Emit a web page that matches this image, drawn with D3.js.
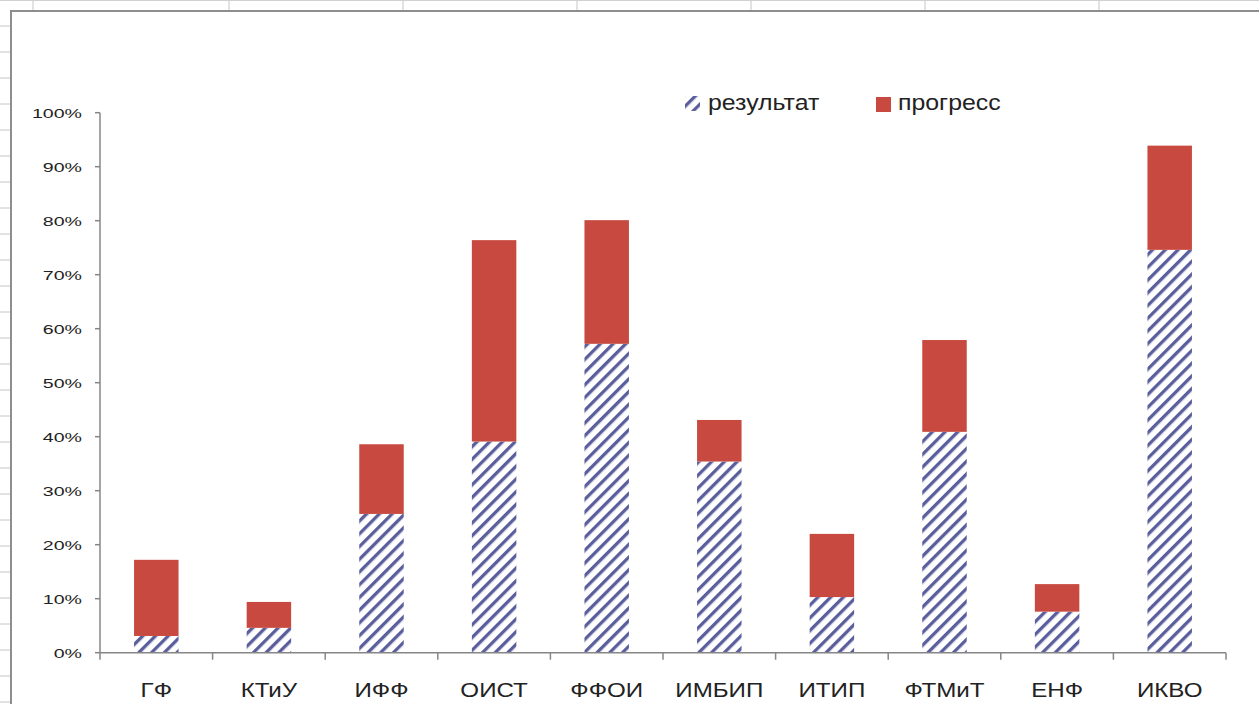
<!DOCTYPE html>
<html>
<head>
<meta charset="utf-8">
<script src="https://cdn.jsdelivr.net/npm/d3@7"></script>
<style>
  html, body { margin: 0; padding: 0; background: #fff; }
  svg { display: block; }
  text { font-family: "Liberation Sans", Arial, sans-serif; fill: #222; }
</style>
</head>
<body>
<svg id="chart" width="1259" height="704"></svg>
<script>
const categories = ["ГФ", "КТиУ", "ИФФ", "ОИСТ", "ФФОИ", "ИМБИП", "ИТИП", "ФТМиТ", "ЕНФ", "ИКВО"];
const resultValues = [3.1, 4.6, 25.7, 39.1, 57.2, 35.4, 10.3, 40.9, 7.6, 74.6];
const progressValues = [14.1, 4.8, 12.9, 37.3, 22.9, 7.7, 11.7, 17.0, 5.1, 19.3];
const yTickValues = [0, 10, 20, 30, 40, 50, 60, 70, 80, 90, 100];
const seriesNames = ["результат", "прогресс"];

const svg = d3.select("#chart");
const W = 1259, H = 704;

// spreadsheet background (cells around the embedded chart)
const bg = svg.append("g");
bg.append("rect").attr("x", 0).attr("y", 0).attr("width", W).attr("height", H).attr("fill", "#fff");
d3.range(26, H, 26).forEach(y => {
  bg.append("line").attr("x1", 0).attr("x2", 11).attr("y1", y).attr("y2", y)
    .attr("stroke", "#c6c6c6").attr("stroke-width", 1);
});
[33, 229, 403, 577, 751, 925, 1099].forEach(x => {
  bg.append("line").attr("x1", x).attr("x2", x).attr("y1", 0).attr("y2", 11)
    .attr("stroke", "#c6c6c6").attr("stroke-width", 1);
});
bg.append("line").attr("x1", 0).attr("x2", W).attr("y1", 0.5).attr("y2", 0.5)
  .attr("stroke", "#d0d0d0").attr("stroke-width", 1);
// chart frame
bg.append("path").attr("d", `M11,${H} L11,11 L${W},11`)
  .attr("fill", "none").attr("stroke", "#8e8e8e").attr("stroke-width", 2);

// hatch pattern
const defs = svg.append("defs");
const pat = defs.append("pattern").attr("id", "hatch")
  .attr("patternUnits", "userSpaceOnUse").attr("width", 9).attr("height", 9)
  .attr("patternTransform", "rotate(45)");
pat.append("rect").attr("width", 9).attr("height", 9).attr("fill", "#fff");
pat.append("rect").attr("x", 0).attr("y", 0).attr("width", 3.3).attr("height", 9).attr("fill", "#5a5e9c");

const x0 = 100, x1 = 1226, yTop = 112.7, yBot = 652.7;
const pad = 0.605;
const x = d3.scaleBand().domain(categories).range([x0, x1]).paddingInner(pad).paddingOuter(pad / 2);
const y = d3.scaleLinear().domain([0, 100]).range([yBot, yTop]);

const red = "#c8493f";
const data = categories.map((c, i) => ({ c, r: resultValues[i], p: progressValues[i] }));

const bars = svg.append("g");
bars.selectAll("rect.res").data(data).join("rect").attr("class", "res")
  .attr("x", d => x(d.c)).attr("width", x.bandwidth())
  .attr("y", d => y(d.r)).attr("height", d => y(0) - y(d.r))
  .attr("fill", "url(#hatch)");
bars.selectAll("rect.prog").data(data).join("rect").attr("class", "prog")
  .attr("x", d => x(d.c)).attr("width", x.bandwidth())
  .attr("y", d => y(d.r + d.p)).attr("height", d => y(d.r) - y(d.r + d.p))
  .attr("fill", red);

// axes
const axisColor = "#868686";
const ax = svg.append("g");
ax.append("line").attr("x1", x0).attr("x2", x0).attr("y1", yTop).attr("y2", yBot)
  .attr("stroke", axisColor).attr("stroke-width", 1.5);
ax.append("line").attr("x1", x0).attr("x2", x1).attr("y1", yBot).attr("y2", yBot)
  .attr("stroke", axisColor).attr("stroke-width", 1.5);
yTickValues.forEach(v => {
  ax.append("line").attr("x1", x0 - 5).attr("x2", x0).attr("y1", y(v)).attr("y2", y(v))
    .attr("stroke", axisColor).attr("stroke-width", 1.5);
  ax.append("text")
    .attr("transform", `translate(82,${y(v)}) scale(1.45,1)`)
    .attr("text-anchor", "end").attr("dy", "0.36em")
    .attr("font-size", 13.5).text(v + "%");
});
const step = x.step();
d3.range(categories.length + 1).forEach(i => {
  const tx = x0 + i * step;
  ax.append("line").attr("x1", tx).attr("x2", tx).attr("y1", yBot).attr("y2", yBot + 7)
    .attr("stroke", axisColor).attr("stroke-width", 1.5);
});
categories.forEach(c => {
  ax.append("text")
    .attr("transform", `translate(${x(c) + x.bandwidth() / 2},697) scale(1.15,1)`)
    .attr("text-anchor", "middle").attr("font-size", 21).text(c);
});

// legend
const lg = svg.append("g");
lg.append("rect").attr("x", 685).attr("y", 96).attr("width", 15).attr("height", 15).attr("fill", "url(#hatch)");
lg.append("text").attr("transform", "translate(708,110) scale(1.13,1)").attr("font-size", 22).text(seriesNames[0]);
lg.append("rect").attr("x", 876).attr("y", 97).attr("width", 15).attr("height", 15).attr("fill", red);
lg.append("text").attr("transform", "translate(898,110) scale(1.13,1)").attr("font-size", 22).text(seriesNames[1]);
</script>
</body>
</html>
